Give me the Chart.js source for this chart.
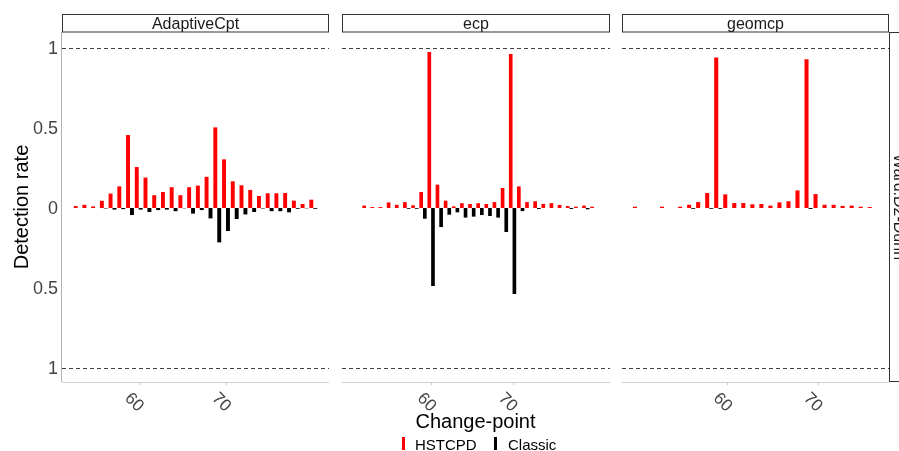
<!DOCTYPE html>
<html><head><meta charset="utf-8">
<script src="https://cdn.jsdelivr.net/npm/chart.js@4.4.1/dist/chart.umd.min.js"></script>
<style>
html,body{margin:0;padding:0;background:#fff;}
#wrap{position:relative;width:899px;height:451px;overflow:hidden;background:#fff;}
canvas{position:absolute;left:0;top:0;}
</style></head><body>
<div id="wrap">
<canvas id="c1" width="899" height="451"></canvas>
<canvas id="c2" width="899" height="451"></canvas>
<canvas id="c3" width="899" height="451"></canvas>
</div>
<script>
// ---------------- data ----------------
const panelNames = ['AdaptiveCpt', 'ecp', 'geomcp'];
const rowStrip = 'Ward.D2-Dunn';
const seriesNames = ['HSTCPD', 'Classic'];
const xTickValues = [60, 70];
const yTickValues = [1, 0.5, 0, -0.5, -1];
const yTickLabels = ['1', '0.5', '0', '0.5', '1'];
const refLines = [1, -1];
const xTitle = 'Change-point';
const yTitle = 'Detection rate';

const cpAdaptive  = [53,54,55,56,57,58,59,60,61,62,63,64,65,66,67,68,69,70,71,72,73,74,75,76,77,78,79,80];
const hstAdaptive = [0.012,0.02,0.01,0.045,0.09,0.135,0.456,0.256,0.19,0.08,0.10,0.13,0.08,0.13,0.14,0.195,0.504,0.304,0.167,0.142,0.113,0.075,0.092,0.092,0.094,0.046,0.025,0.052];
const clsAdaptive = [0,0,0,0.003,0.01,0.007,0.044,0.01,0.025,0.013,0.01,0.02,0.002,0.035,0.013,0.065,0.215,0.144,0.069,0.04,0.025,0.003,0.02,0.02,0.027,0.005,0.002,0.005];

const cpEcp  = [52,53,54,55,56,57,58,59,60,61,62,63,64,65,66,67,68,69,70,71,72,73,74,75,76,77,78,79,80];
const hstEcp = [0.015,0.006,0.006,0.035,0.02,0.037,0.017,0.10,0.975,0.146,0.046,0.01,0.03,0.025,0.03,0.025,0.037,0.125,0.963,0.135,0.037,0.042,0.025,0.03,0.019,0.012,0.008,0.015,0.008];
const clsEcp = [0,0,0,0,0,0.005,0.005,0.067,0.4875,0.119,0.042,0.027,0.06,0.054,0.044,0.05,0.06,0.15,0.5375,0.019,0,0.006,0,0,0,0.006,0,0.008,0];

const cpGeom  = [50,51,52,53,54,55,56,57,58,59,60,61,62,63,64,65,66,67,68,69,70,71,72,73,74,75,76];
const hstGeom = [0.008,0,0,0.008,0,0.008,0.02,0.037,0.094,0.94,0.085,0.031,0.031,0.023,0.025,0.015,0.035,0.042,0.11,0.93,0.087,0.02,0.02,0.013,0.015,0.008,0.006];
const clsGeom = [0,0,0,0,0,0,0.005,0,0.005,0.005,0,0,0,0,0,0,0,0,0,0.006,0,0,0,0,0,0,0];

// ---------------- styling / layout ----------------
const FONT = '"Liberation Sans", Arial, Helvetica, sans-serif';
const RED = '#ff0000', BLACK = '#000000';

const panels = [
  {canvas:'c1', name:panelNames[0], cp:cpAdaptive, hst:hstAdaptive, cls:clsAdaptive, xmin:51.21, xmax:81.8, left:62, right:570, first:true},
  {canvas:'c2', name:panelNames[1], cp:cpEcp, hst:hstEcp, cls:clsEcp, xmin:49.05, xmax:81.97, left:342, right:289},
  {canvas:'c3', name:panelNames[2], cp:cpGeom, hst:hstGeom, cls:clsGeom, xmin:48.34, xmax:77.91, left:622, right:10, last:true}
];

const deco = {
  id: 'deco',
  afterDraw(chart, args, o) {
    const ctx = chart.ctx, a = chart.chartArea, xs = chart.scales.x, ys = chart.scales.y;
    ctx.save();
    // reference dashed lines
    ctx.strokeStyle = '#404040'; ctx.lineWidth = 1; ctx.setLineDash([4, 3]);
    refLines.forEach(v => {
      const y = Math.round(ys.getPixelForValue(v)) + 0.5;
      ctx.beginPath(); ctx.moveTo(a.left, y); ctx.lineTo(a.right, y); ctx.stroke();
    });
    ctx.setLineDash([]);
    // bottom axis line
    ctx.strokeStyle = '#d0d0d0';
    ctx.beginPath(); ctx.moveTo(a.left, a.bottom + 0.5); ctx.lineTo(a.right, a.bottom + 0.5); ctx.stroke();
    // x ticks + labels
    ctx.fillStyle = '#444'; ctx.font = '17px ' + FONT;
    xTickValues.forEach(v => {
      const px = xs.getPixelForValue(v);
      ctx.strokeStyle = '#cccccc';
      ctx.beginPath(); ctx.moveTo(Math.round(px) + 0.5, a.bottom); ctx.lineTo(Math.round(px) + 0.5, a.bottom + 3); ctx.stroke();
      ctx.save();
      ctx.translate(px + 2, a.bottom + 27);
      ctx.rotate(Math.PI / 4);
      ctx.textAlign = 'right'; ctx.textBaseline = 'middle';
      ctx.fillText(String(v), 0, 0);
      ctx.restore();
    });
    // top strip
    ctx.fillStyle = '#fff'; ctx.strokeStyle = '#333';
    ctx.fillRect(a.left, 14, a.right - a.left, 18);
    ctx.strokeRect(a.left + 0.5, 14.5, a.right - a.left - 1, 17.5);
    ctx.fillStyle = '#1a1a1a'; ctx.font = '16px ' + FONT;
    ctx.textAlign = 'center'; ctx.textBaseline = 'alphabetic';
    ctx.fillText(o.name, (a.left + a.right) / 2, 29);

    if (o.first) {
      // left axis line
      ctx.strokeStyle = '#b0b0b0';
      ctx.beginPath(); ctx.moveTo(a.left - 0.5, a.top); ctx.lineTo(a.left - 0.5, a.bottom); ctx.stroke();
      // y tick labels
      ctx.fillStyle = '#444'; ctx.font = '18px ' + FONT;
      ctx.textAlign = 'right'; ctx.textBaseline = 'middle';
      yTickValues.forEach((v, i) => ctx.fillText(yTickLabels[i], a.left - 4, ys.getPixelForValue(v) + 1));
      // y title
      ctx.save();
      ctx.translate(28, (a.top + a.bottom) / 2);
      ctx.rotate(-Math.PI / 2);
      ctx.fillStyle = '#000'; ctx.font = '20px ' + FONT;
      ctx.textAlign = 'center'; ctx.textBaseline = 'alphabetic';
      ctx.fillText(yTitle, 0, 0);
      ctx.restore();
      // x title
      ctx.fillStyle = '#000'; ctx.font = '20px ' + FONT;
      ctx.textAlign = 'center'; ctx.textBaseline = 'alphabetic';
      ctx.fillText(xTitle, 475.5, 428);
      // legend
      ctx.font = '15px ' + FONT; ctx.textAlign = 'left';
      ctx.fillStyle = RED; ctx.fillRect(402, 437, 3, 13);
      ctx.fillStyle = '#000'; ctx.fillText(seriesNames[0], 415, 450);
      ctx.fillStyle = BLACK; ctx.fillRect(494, 437, 3, 13);
      ctx.fillStyle = '#000'; ctx.fillText(seriesNames[1], 508, 450);
    }
    if (o.last) {
      // right strip
      ctx.fillStyle = '#fff'; ctx.strokeStyle = '#333';
      ctx.fillRect(a.right, a.top, 20, a.bottom - a.top);
      ctx.strokeRect(a.right + 0.5, a.top + 0.5, 20, a.bottom - a.top - 1);
      ctx.save();
      ctx.translate(a.right + 9, (a.top + a.bottom) / 2);
      ctx.rotate(Math.PI / 2);
      ctx.fillStyle = '#1a1a1a'; ctx.font = '16px ' + FONT;
      ctx.textAlign = 'center'; ctx.textBaseline = 'middle';
      ctx.fillText(rowStrip, 0, 0);
      ctx.restore();
    }
    ctx.restore();
  }
};

panels.forEach(p => {
  new Chart(document.getElementById(p.canvas), {
    type: 'bar',
    data: {
      datasets: [
        {label: seriesNames[0], data: p.cp.map((x, i) => ({x: x, y: p.hst[i]})), backgroundColor: RED,
         categoryPercentage: 0.9, barPercentage: 1.0, borderWidth: 0},
        {label: seriesNames[1], data: p.cp.map((x, i) => ({x: x, y: -p.cls[i]})), backgroundColor: BLACK,
         categoryPercentage: 0.9, barPercentage: 1.0, borderWidth: 0}
      ]
    },
    options: {
      responsive: false, animation: false, events: [],
      layout: {padding: {left: p.left, right: p.right, top: 32, bottom: 69}},
      plugins: {legend: {display: false}, tooltip: {enabled: false},
                deco: {name: p.name, first: !!p.first, last: !!p.last}},
      scales: {
        x: {type: 'linear', min: p.xmin, max: p.xmax, display: false, offset: false},
        y: {type: 'linear', min: -1.0875, max: 1.1, display: false}
      }
    },
    plugins: [deco]
  });
});
</script>
</body></html>
